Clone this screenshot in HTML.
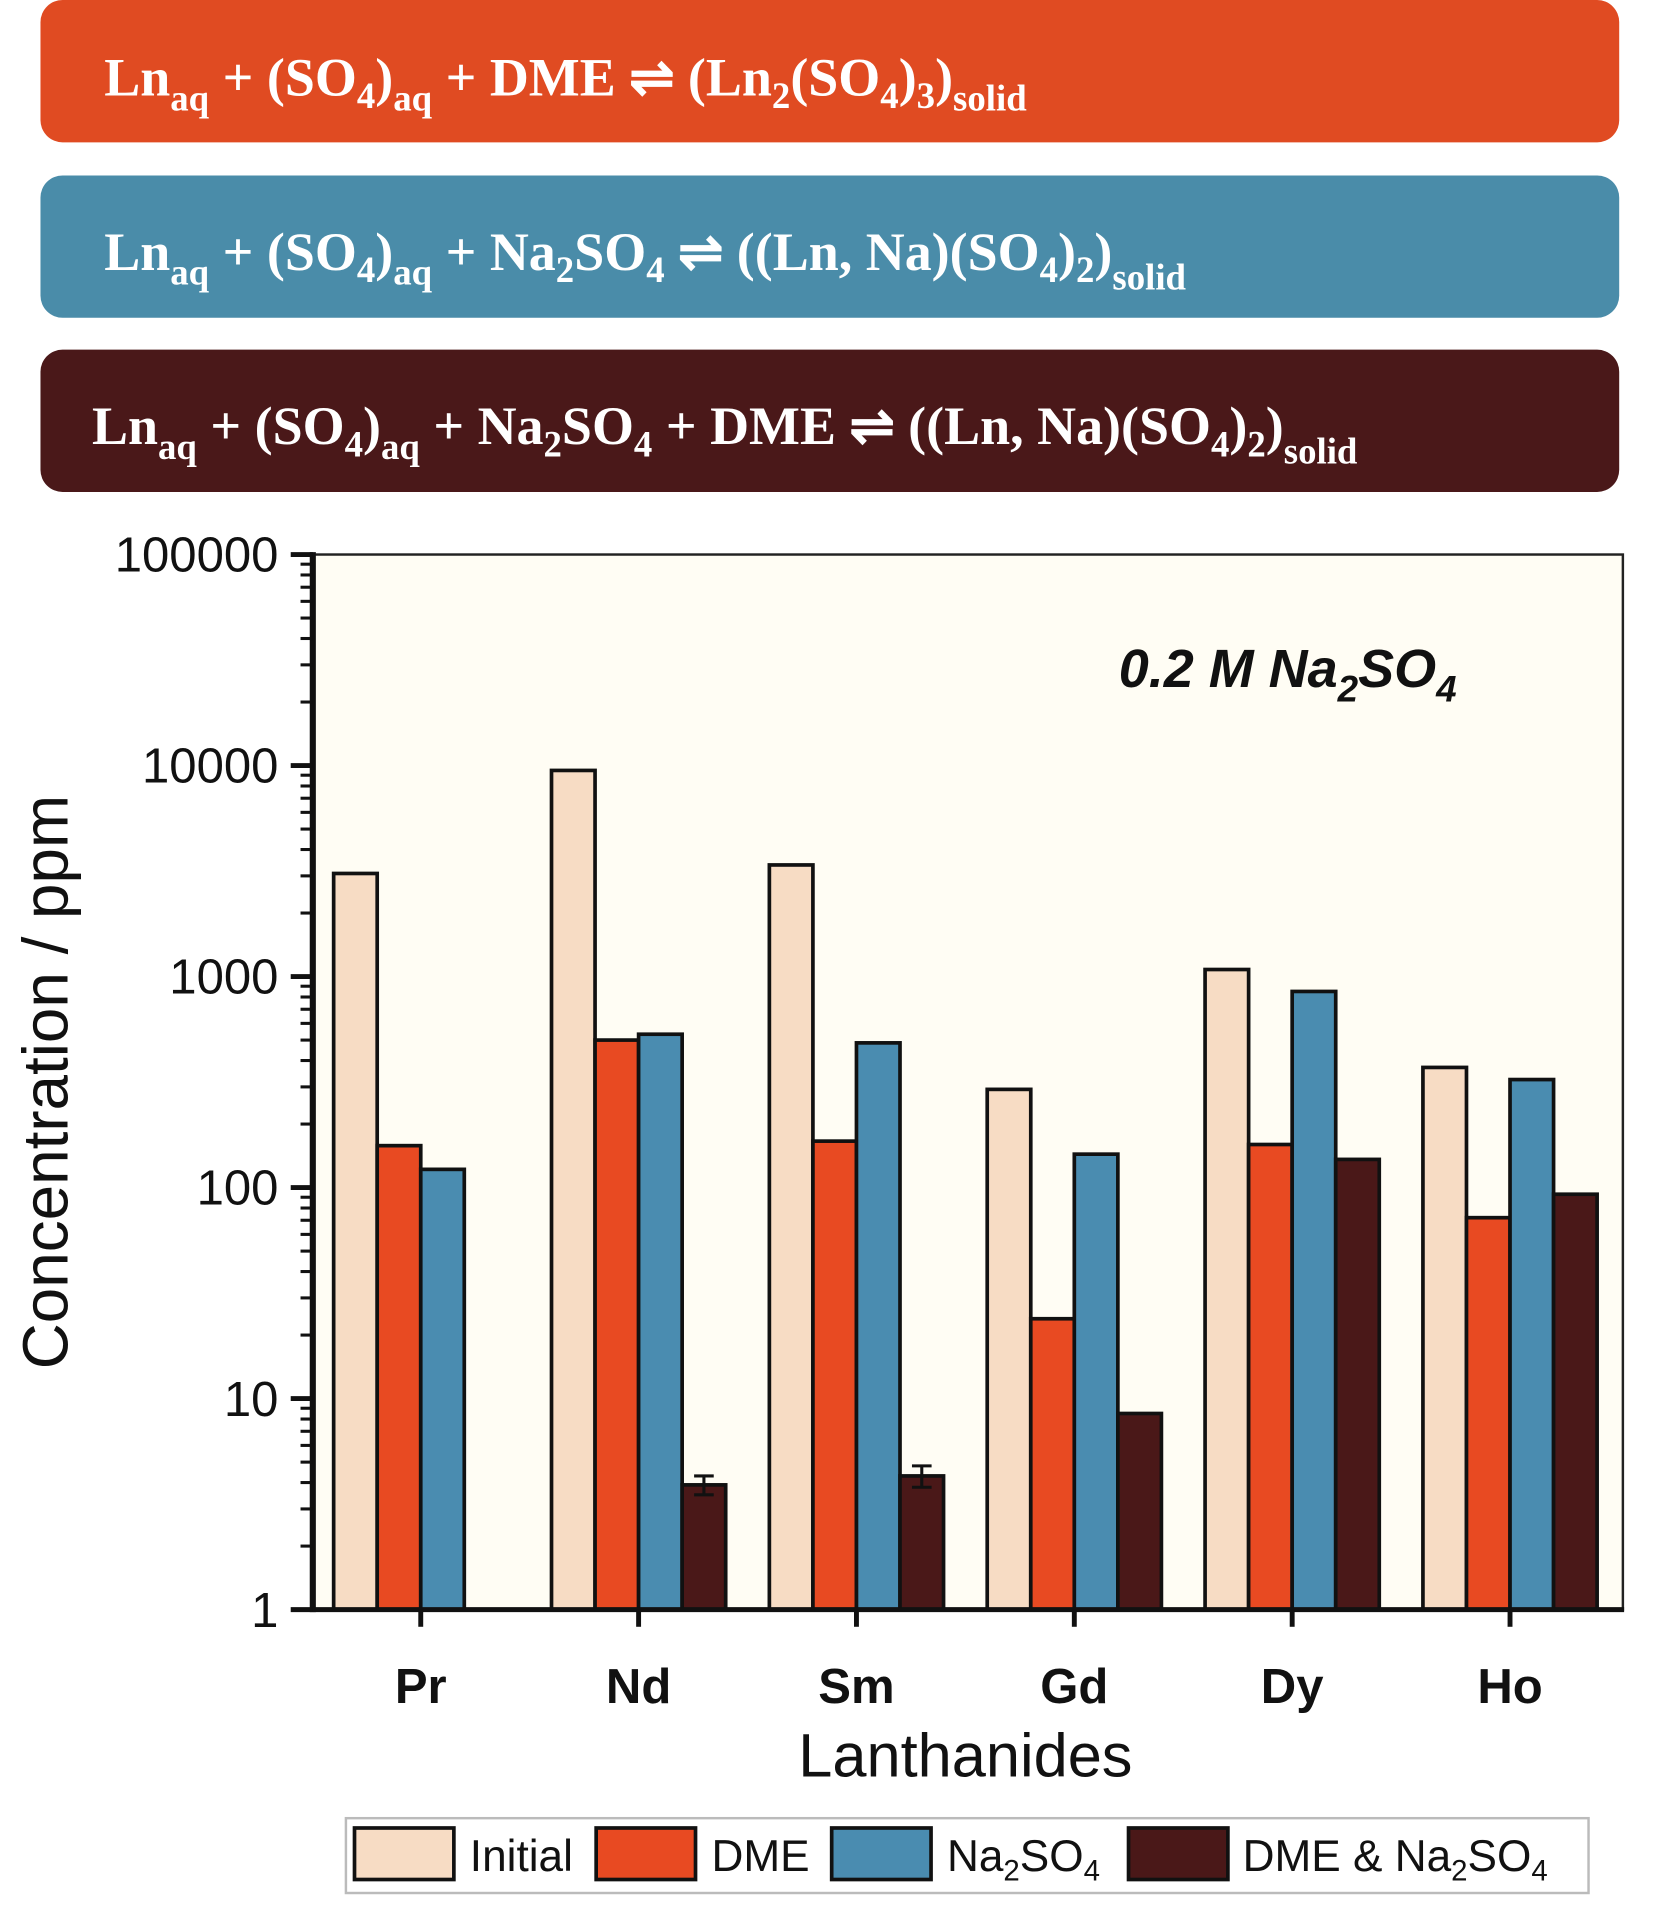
<!DOCTYPE html>
<html><head><meta charset="utf-8"><style>
html,body{margin:0;padding:0;background:#fff;}
svg{display:block;}
.ban{font-family:"Liberation Serif",serif;font-weight:bold;fill:#fff;font-size:44px;}
.ax{font-family:"Liberation Sans",sans-serif;}
</style></head><body>
<svg id="chart" width="1656" height="1920" viewBox="0 0 1350 1565" preserveAspectRatio="none" xmlns="http://www.w3.org/2000/svg">
<g>
<rect x="33" y="0" width="1287" height="116" rx="18" fill="#e04b22"/>
<text class="ban" x="85" y="78">Ln<tspan font-size="30" dy="12">aq</tspan><tspan dy="-12"> + (SO</tspan><tspan font-size="30" dy="10">4</tspan><tspan dy="-10">)</tspan><tspan font-size="30" dy="12">aq</tspan><tspan dy="-12"> + DME ⇌ (Ln</tspan><tspan font-size="30" dy="10">2</tspan><tspan dy="-10">(SO</tspan><tspan font-size="30" dy="10">4</tspan><tspan dy="-10">)</tspan><tspan font-size="30" dy="10">3</tspan><tspan dy="-10">)</tspan><tspan font-size="30" dy="12">solid</tspan></text>
</g>
<g>
<rect x="33" y="143" width="1287" height="116" rx="18" fill="#4a8ca9"/>
<text class="ban" x="85" y="220">Ln<tspan font-size="30" dy="12">aq</tspan><tspan dy="-12"> + (SO</tspan><tspan font-size="30" dy="10">4</tspan><tspan dy="-10">)</tspan><tspan font-size="30" dy="12">aq</tspan><tspan dy="-12"> + Na</tspan><tspan font-size="30" dy="10">2</tspan><tspan dy="-10">SO</tspan><tspan font-size="30" dy="10">4</tspan><tspan dy="-10"> ⇌ ((Ln, Na)(SO</tspan><tspan font-size="30" dy="10">4</tspan><tspan dy="-10">)</tspan><tspan font-size="30" dy="10">2</tspan><tspan dy="-10">)</tspan><tspan font-size="30" dy="16">solid</tspan></text>
</g>
<g>
<rect x="33" y="285" width="1287" height="116" rx="18" fill="#4a1819"/>
<text class="ban" x="75" y="362">Ln<tspan font-size="30" dy="12">aq</tspan><tspan dy="-12"> + (SO</tspan><tspan font-size="30" dy="10">4</tspan><tspan dy="-10">)</tspan><tspan font-size="30" dy="12">aq</tspan><tspan dy="-12"> + Na</tspan><tspan font-size="30" dy="10">2</tspan><tspan dy="-10">SO</tspan><tspan font-size="30" dy="10">4</tspan><tspan dy="-10"> + DME ⇌ ((Ln, Na)(SO</tspan><tspan font-size="30" dy="10">4</tspan><tspan dy="-10">)</tspan><tspan font-size="30" dy="10">2</tspan><tspan dy="-10">)</tspan><tspan font-size="30" dy="16">solid</tspan></text>
</g>
<rect x="255" y="452" width="1068" height="860" fill="#fffdf4" stroke="#222" stroke-width="2"/>
<g id="bars"></g>
<g id="axes"></g>
<text class="ax" x="912" y="560" font-size="44" font-weight="bold" font-style="italic" fill="#111">0.2 M Na<tspan font-size="30" dy="12">2</tspan><tspan dy="-12">SO</tspan><tspan font-size="30" dy="12">4</tspan></text>
<text class="ax" transform="translate(55,882) rotate(-90)" text-anchor="middle" font-size="52" fill="#111">Concentration / ppm</text>
<text class="ax" x="787" y="1448" text-anchor="middle" font-size="50" fill="#111">Lanthanides</text>
<g>
<rect x="282" y="1482" width="1013" height="61" fill="#fff" stroke="#bbb" stroke-width="2"/>
<rect x="289" y="1490" width="81" height="42" fill="#f7dcc4" stroke="#111" stroke-width="3"/>
<text class="ax" x="383" y="1525" font-size="36" fill="#111">Initial</text>
<rect x="486" y="1490" width="81" height="42" fill="#e84a22" stroke="#111" stroke-width="3"/>
<text class="ax" x="580" y="1525" font-size="36" fill="#111">DME</text>
<rect x="678" y="1490" width="81" height="42" fill="#4a8cb0" stroke="#111" stroke-width="3"/>
<text class="ax" x="772" y="1525" font-size="36" fill="#111">Na<tspan font-size="24" dy="8">2</tspan><tspan dy="-8">SO</tspan><tspan font-size="24" dy="8">4</tspan></text>
<rect x="920" y="1490" width="81" height="42" fill="#4a1818" stroke="#111" stroke-width="3"/>
<text class="ax" x="1013" y="1525" font-size="36" fill="#111">DME &amp; Na<tspan font-size="24" dy="8">2</tspan><tspan dy="-8">SO</tspan><tspan font-size="24" dy="8">4</tspan></text>
</g>
</svg>
<script>
const categories = ["Pr","Nd","Sm","Gd","Dy","Ho"];
const initialValues = [3080, 9480, 3380, 292, 1080, 371];
const dmeValues = [158, 500, 166, 23.9, 160, 72];
const na2so4Values = [122, 533, 485, 144, 850, 325];
const dmeNa2so4Values = [null, 3.9, 4.3, 8.5, 136, 93];
const dmeNa2so4Errors = [0, 0.4, 0.5, 0, 0, 0];
const yTickValues = [1, 10, 100, 1000, 10000, 100000];
const yTickLabels = ["1","10","100","1000","10000","100000"];

const NS = "http://www.w3.org/2000/svg";
const L=255,R=1323,T=452,B=1312;
const yMinLog=0,yMaxLog=5;
function yScale(v){return B-(Math.log10(v)-yMinLog)/(yMaxLog-yMinLog)*(B-T);}
const groupW=177.6, firstC=343;
function xCenter(i){return firstC+i*groupW;}
const barW=35.5;
function mk(tag,attrs,parent){const e=document.createElementNS(NS,tag);for(const k in attrs)e.setAttribute(k,attrs[k]);parent.appendChild(e);return e;}
const bars=document.getElementById('bars');
const series=[[initialValues,"#f7dcc4","initial"],[dmeValues,"#e84a22","dme"],[na2so4Values,"#4a8cb0","na2so4"],[dmeNa2so4Values,"#4a1818","dme-na2so4"]];
series.forEach((s,si)=>{
  s[0].forEach((v,i)=>{
    if(v==null)return;
    const x=xCenter(i)-2*barW+si*barW, y=yScale(v);
    const r=mk('rect',{x:x,y:y,width:barW,height:B-y,fill:s[1],stroke:'#111','stroke-width':3},bars);
    
    
    if(si===3 && dmeNa2so4Errors[i]>0){
      const cx=x+barW/2, y1=yScale(v+dmeNa2so4Errors[i]), y2=yScale(v-dmeNa2so4Errors[i]);
      const g=mk('path',{d:`M${cx} ${y1}V${y2}M${cx-8} ${y1}H${cx+8}M${cx-8} ${y2}H${cx+8}`,stroke:'#111','stroke-width':2.5,fill:'none'},bars);
      
      
    }
  });
});
const axes=document.getElementById('axes');
mk('line',{x1:L,y1:T-2,x2:L,y2:B+2,stroke:'#111','stroke-width':5},axes);
mk('line',{x1:L,y1:B,x2:R+1,y2:B,stroke:'#111','stroke-width':4},axes);
yTickValues.forEach((v,i)=>{
  const y=yScale(v);
  mk('line',{x1:L-18,y1:y,x2:L,y2:y,stroke:'#111','stroke-width':4},axes);
  const t=mk('text',{x:L-28,y:y+14,'text-anchor':'end','font-size':40,'font-family':'Liberation Sans, sans-serif',fill:'#111'},axes);
  t.textContent=yTickLabels[i];
  
  
  if(i<yTickValues.length-1){for(let m=2;m<10;m++){const ym=yScale(v*m);mk('line',{x1:L-10,y1:ym,x2:L,y2:ym,stroke:'#111','stroke-width':2.5},axes);}}
});
categories.forEach((c,i)=>{
  const x=xCenter(i);
  mk('line',{x1:x,y1:B,x2:x,y2:B+14,stroke:'#111','stroke-width':4},axes);
  const t=mk('text',{x:x,y:B+76,'text-anchor':'middle','font-size':40,'font-weight':'bold','font-family':'Liberation Sans, sans-serif',fill:'#111'},axes);
  t.textContent=c;
  
  
});
</script>
</body></html>
